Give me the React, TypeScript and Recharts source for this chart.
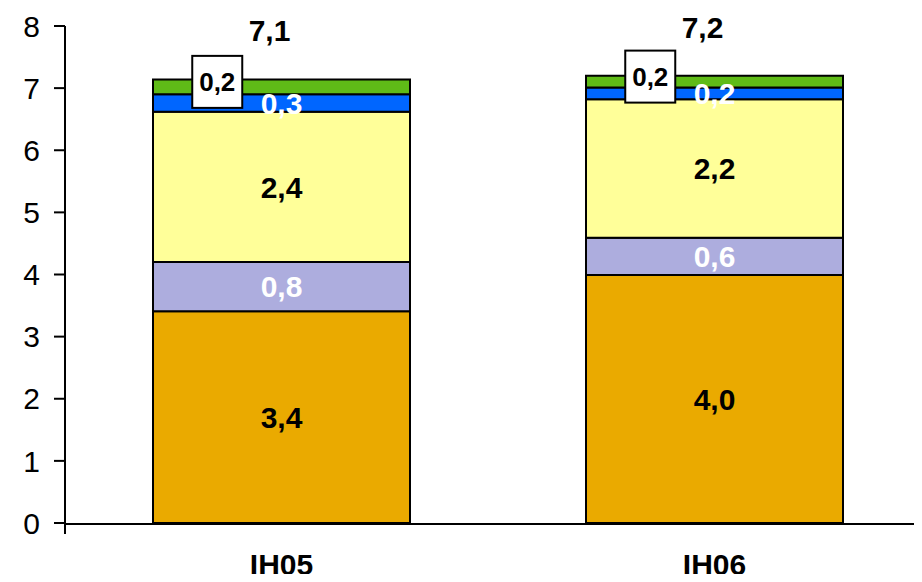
import { BarChart, Bar, XAxis, YAxis, LabelList } from "recharts";

const categories = ["IH05", "IH06"];
// stacked segments, bottom to top
const orangeVals = [3.41, 3.99];
const lavenderVals = [0.79, 0.6];
const yellowVals = [2.42, 2.23];
const blueVals = [0.28, 0.19];
const greenVals = [0.24, 0.19];
const yTicks = [0, 1, 2, 3, 4, 5, 6, 7, 8];
const edgeTicks = [0, 1, 2];

const data = categories.map((name, i) => ({
  name,
  orange: orangeVals[i],
  lavender: lavenderVals[i],
  yellow: yellowVals[i],
  blue: blueVals[i],
  green: greenVals[i],
  total: orangeVals[i] + lavenderVals[i] + yellowVals[i] + blueVals[i] + greenVals[i],
}));

const FONT = "'Liberation Sans', Arial, sans-serif";
const fmt = (v: any) => Number(v).toFixed(1).replace(".", ",");

const labelStyle = (fill: string) => ({
  fill,
  fontSize: 30,
  fontWeight: "bold" as const,
  fontFamily: FONT,
});

// small green segment: boxed label pushed to the left
function BoxLabel(props: any) {
  const { x, y, width, height, value } = props;
  if (x == null) return null;
  const cx = x + width * 0.25;
  const cy = y + height / 2 - 5;
  return (
    <g>
      <rect x={cx - 25} y={cy - 26} width={50} height={52} fill="#fff" stroke="#000" strokeWidth={2} />
      <text x={cx} y={cy + 9} textAnchor="middle" fontSize={26} fontWeight="bold" fontFamily={FONT} fill="#000">
        {fmt(value)}
      </text>
    </g>
  );
}

function TotalLabel(props: any) {
  const { x, y, width, value } = props;
  if (x == null) return null;
  return (
    <text x={x + width / 2 - 12} y={y - 38} textAnchor="middle" fontSize={30} fontWeight="bold" fontFamily={FONT} fill="#000">
      {fmt(value)}
    </text>
  );
}

const NoTick = () => <g />;

export default function App() {
  const stroke = { stroke: "#000", strokeWidth: 2 };
  return (
    <div style={{ width: 914, height: 582, marginTop: -8, marginBottom: -8, overflow: "hidden" }}>
      <BarChart
        width={930}
        height={582}
        data={data}
        barSize={257}
        margin={{ top: 26, right: 7, left: 0, bottom: 7 }}
      >
        <XAxis
          dataKey="name"
          height={1}
          axisLine={false}
          tickLine={false}
          tickSize={6}
          tickMargin={25}
          tick={{ fill: "#000", fontSize: 30, fontWeight: "bold", fontFamily: FONT }}
        />
        <XAxis
          xAxisId="edge"
          type="number"
          domain={[0, 2]}
          ticks={edgeTicks}
          tick={<NoTick />}
          tickSize={10}
          height={51}
          axisLine={{ stroke: "#000", strokeWidth: 2 }}
          tickLine={{ stroke: "#000", strokeWidth: 2 }}
        />
        <YAxis
          width={57}
          domain={[0, 8]}
          ticks={yTicks}
          interval={0}
          tickSize={11}
          tickMargin={14}
          axisLine={{ stroke: "#000", strokeWidth: 2 }}
          tickLine={{ stroke: "#000", strokeWidth: 2 }}
          tick={{ fill: "#000", fontSize: 30, fontFamily: FONT }}
        />
        <Bar dataKey="orange" stackId="s" fill="#EAAA00" {...stroke} isAnimationActive={false}>
          <LabelList dataKey="orange" position="center" formatter={fmt} style={labelStyle("#000")} />
        </Bar>
        <Bar dataKey="lavender" stackId="s" fill="#ADADDE" {...stroke} isAnimationActive={false}>
          <LabelList dataKey="lavender" position="center" formatter={fmt} style={labelStyle("#fff")} />
        </Bar>
        <Bar dataKey="yellow" stackId="s" fill="#FFFF99" {...stroke} isAnimationActive={false}>
          <LabelList dataKey="yellow" position="center" formatter={fmt} style={labelStyle("#000")} />
        </Bar>
        <Bar dataKey="blue" stackId="s" fill="#0066FF" {...stroke} isAnimationActive={false}>
          <LabelList dataKey="blue" position="center" formatter={fmt} style={labelStyle("#fff")} />
        </Bar>
        <Bar dataKey="green" stackId="s" fill="#5FBB17" {...stroke} isAnimationActive={false}>
          <LabelList dataKey="green" content={<BoxLabel />} />
          <LabelList dataKey="total" content={<TotalLabel />} />
        </Bar>
      </BarChart>
    </div>
  );
}
